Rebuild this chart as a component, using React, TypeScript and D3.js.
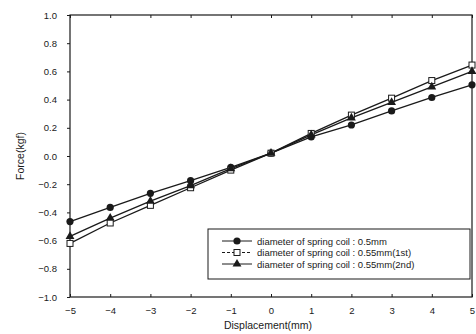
import React, { useEffect, useRef } from 'react';
import * as d3 from 'd3';

const displacement = [-5, -4, -3, -2, -1, 0, 1, 2, 3, 4, 5];
const coil05 = [-0.465, -0.365, -0.265, -0.175, -0.08, 0.02, 0.135, 0.22, 0.32, 0.415, 0.505];
const coil055First = [-0.62, -0.475, -0.35, -0.225, -0.1, 0.02, 0.16, 0.29, 0.41, 0.535, 0.645];
const coil055Second = [-0.57, -0.44, -0.32, -0.21, -0.09, 0.02, 0.15, 0.27, 0.38, 0.49, 0.6];
const yTicks = [-1.0, -0.8, -0.6, -0.4, -0.2, 0.0, 0.2, 0.4, 0.6, 0.8, 1.0];
const legendLabels = [
  'diameter of spring coil : 0.5mm',
  'diameter of spring coil : 0.55mm(1st)',
  'diameter of spring coil : 0.55mm(2nd)',
];

const App: React.FC = () => {
  const svgRef = useRef<SVGSVGElement | null>(null);

  useEffect(() => {
    if (!svgRef.current) return;
    const width = 476;
    const height = 334;
    const margin = { top: 15, right: 4, bottom: 37, left: 70 };
    const font = 'Arial, "Liberation Sans", sans-serif';

    const svg = d3.select(svgRef.current)
      .attr('width', width)
      .attr('height', height)
      .style('font-family', font);
    svg.selectAll('*').remove();

    const x = d3.scaleLinear().domain([-5, 5]).range([margin.left, width - margin.right]);
    const y = d3.scaleLinear().domain([-1, 1]).range([height - margin.bottom, margin.top]);

    const ink = '#1a1a1a';

    // frame
    svg.append('rect')
      .attr('x', x(-5)).attr('y', y(1))
      .attr('width', x(5) - x(-5)).attr('height', y(-1) - y(1))
      .attr('fill', 'none').attr('stroke', ink).attr('stroke-width', 1.2);

    // bottom axis
    const xAxis = svg.append('g')
      .attr('transform', `translate(0,${y(-1)})`)
      .call(d3.axisBottom(x).tickValues(displacement).tickSize(-3).tickPadding(10).tickFormat(d3.format('d')));
    xAxis.select('.domain').remove();
    xAxis.selectAll('line').attr('stroke', ink);
    xAxis.selectAll('text').attr('font-size', 9.5).attr('fill', ink).attr('font-family', font);

    // top ticks
    const xTop = svg.append('g')
      .attr('transform', `translate(0,${y(1)})`)
      .call(d3.axisTop(x).tickValues(displacement).tickSize(-3).tickFormat(() => ''));
    xTop.select('.domain').remove();
    xTop.selectAll('line').attr('stroke', ink);

    // left axis
    const yAxis = svg.append('g')
      .attr('transform', `translate(${x(-5)},0)`)
      .call(d3.axisLeft(y).tickValues(yTicks).tickSize(3).tickPadding(10).tickFormat(d3.format('.1f')));
    yAxis.select('.domain').remove();
    yAxis.selectAll('line').attr('stroke', ink);
    yAxis.selectAll('text').attr('font-size', 9.5).attr('fill', ink).attr('font-family', font);

    // axis titles
    svg.append('text')
      .attr('x', 268).attr('y', 329)
      .attr('text-anchor', 'middle').attr('font-size', 10.5).attr('fill', ink)
      .text('Displacement(mm)');
    svg.append('text')
      .attr('transform', `translate(24,${y(0)}) rotate(-90)`)
      .attr('text-anchor', 'middle').attr('font-size', 10.5).attr('fill', ink)
      .text('Force(kgf)');

    const line = d3.line<[number, number]>().x(d => x(d[0])).y(d => y(d[1]));
    const series = [
      { values: coil05, marker: 'circle' },
      { values: coil055First, marker: 'square' },
      { values: coil055Second, marker: 'triangle' },
    ];

    const drawMarker = (g: any, kind: string, cx: number, cy: number) => {
      if (kind === 'circle') {
        g.append('circle').attr('cx', cx).attr('cy', cy).attr('r', 3.6).attr('fill', ink);
      } else if (kind === 'square') {
        g.append('rect').attr('x', cx - 3).attr('y', cy - 3).attr('width', 6).attr('height', 6)
          .attr('fill', '#fff').attr('stroke', ink).attr('stroke-width', 1);
      } else {
        const s = d3.symbol(d3.symbolTriangle, 34)();
        g.append('path').attr('d', s).attr('transform', `translate(${cx},${cy})`).attr('fill', ink);
      }
    };

    series.forEach(s => {
      const pts = displacement.map((d, i) => [d, s.values[i]] as [number, number]);
      svg.append('path')
        .attr('d', line(pts))
        .attr('fill', 'none')
        .attr('stroke', ink)
        .attr('stroke-width', 1.3);
    });
    series.forEach(s => {
      const g = svg.append('g');
      displacement.forEach((d, i) => drawMarker(g, s.marker, x(d), y(s.values[i])));
    });

    // legend
    const lg = svg.append('g');
    lg.append('rect')
      .attr('x', 208).attr('y', 229).attr('width', 262).attr('height', 50)
      .attr('fill', '#fff').attr('stroke', ink).attr('stroke-width', 1);
    legendLabels.forEach((label, i) => {
      const ly = 241 + i * 11.5;
      lg.append('line')
        .attr('x1', 222).attr('x2', 252).attr('y1', ly).attr('y2', ly)
        .attr('stroke', ink).attr('stroke-width', 1)
        .attr('stroke-dasharray', i === 1 ? '3,2' : null);
      drawMarker(lg, series[i].marker, 237, ly);
      lg.append('text')
        .attr('x', 257).attr('y', ly + 3.5)
        .attr('font-size', 9.5).attr('fill', ink)
        .text(label);
    });
  }, []);

  return <svg ref={svgRef} style={{ position: 'absolute', left: 0, top: 0, background: '#fff' }} />;
};

export default App;
